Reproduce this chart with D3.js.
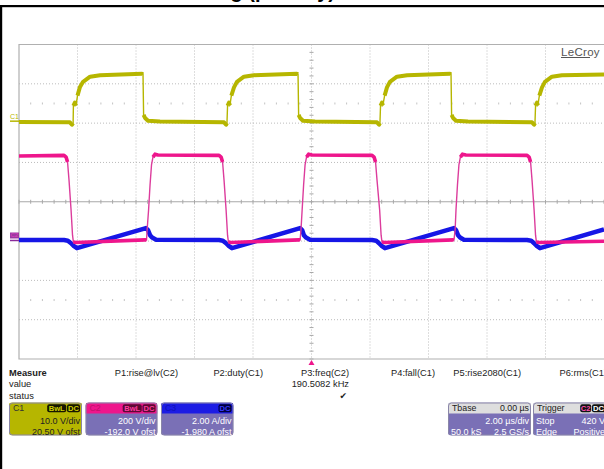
<!DOCTYPE html>
<html><head><meta charset="utf-8">
<script src="https://cdn.jsdelivr.net/npm/d3@7"></script>
<style>
body{margin:0;background:#fff;}
svg{display:block;font-family:"Liberation Sans",Arial,sans-serif;}
</style>
</head><body>
<svg id="c" width="604" height="469"></svg>
<script>
// ---------------- data ----------------
const titleText = "Switching (primary)";
const timeTicks = [-10,-8,-6,-4,-2,0,2,4,6,8,10];      // µs (2 µs/div)
const divTicks  = [-4,-3,-2,-1,0,1,2,3,4];              // vertical divisions

// C1 (yellow) : time µs / volts
const c1Time  = [-10.00,-8.26,-8.19,-8.15,-8.14,-8.09,-8.05,-8.00,-7.92,-7.81,-7.57,-7.23,-5.79,-5.76,-5.74,-5.69,-5.59,-5.18,-2.99,-2.92,
                 -2.89,-2.87,-2.82,-2.79,-2.74,-2.65,-2.55,-2.31,-1.97,-0.50,-0.46,-0.44,-0.39,-0.29,0.12,2.24,2.31,
                 2.34,2.36,2.41,2.44,2.50,2.58,2.68,2.92,3.27,4.74,4.77,4.79,4.84,4.94,5.35,7.54,7.61,
                 7.64,7.66,7.71,7.74,7.79,7.88,7.98,8.22,8.56,10.00];
const c1Volts = [-0.2,-0.3,-0.9,-0.5,3.9,4.7,4.0,6.5,8.6,10.0,11.3,11.7,12.05,11.9,1.6,0.8,0.1,-0.1,-0.3,-0.9,
                 -0.5,3.9,4.7,4.0,6.5,8.6,10.0,11.3,11.7,12.05,11.9,1.6,0.8,0.1,-0.1,-0.3,-0.9,
                 -0.5,3.9,4.7,4.0,6.5,8.6,10.0,11.3,11.7,12.05,11.9,1.6,0.8,0.1,-0.1,-0.3,-0.9,
                 -0.5,3.9,4.7,4.0,6.5,8.6,10.0,11.3,11.7,11.9];

// C2 (magenta) : time µs / volts
const c2Time  = [-10.00,-8.46,-8.39,-8.34,-8.29,-8.22,-8.17,-8.14,-8.05,-5.69,-5.64,-5.62,-5.57,-5.52,-5.47,-5.42,-5.35,-5.25,
                 -3.16,-3.09,-3.04,-2.99,-2.92,-2.87,-2.84,-2.75,-0.43,-0.39,-0.36,-0.32,-0.27,-0.22,-0.17,-0.10,0.02,
                 2.07,2.14,2.19,2.24,2.33,2.38,2.41,2.51,4.84,4.87,4.91,4.94,4.99,5.04,5.09,5.16,5.28,
                 7.37,7.44,7.49,7.54,7.61,7.66,7.69,7.78,10.00];
const c2Volts = [425,428,419,394,302,150,22,-13,-15,-2,-3,48,150,277,379,419,434,430,
                 428,419,394,302,150,22,-13,-15,-2,-3,48,150,277,379,419,434,430,
                 428,419,394,302,150,22,-13,-15,-2,-3,48,150,277,379,419,434,430,
                 428,419,394,302,150,22,-13,-15,-9];

// C3 (blue) : time µs / amps
const c3Time = [-10.00,-8.46,-8.33,-8.22,-8.12,-8.02,-5.66,-5.59,-5.52,-5.45,-5.31,
                -3.16,-3.03,-2.92,-2.82,-2.72,-0.39,-0.32,-0.26,-0.19,-0.05,
                2.07,2.21,2.31,2.41,2.51,4.87,4.94,5.01,5.08,5.21,
                7.37,7.51,7.61,7.71,7.81,10.00];
const c3Amps = [0.03,0.03,0.00,-0.13,-0.28,-0.38,0.64,0.54,0.28,0.16,0.05,
                0.03,0.00,-0.13,-0.28,-0.38,0.64,0.54,0.28,0.16,0.05,
                0.03,0.00,-0.13,-0.28,-0.38,0.64,0.54,0.28,0.16,0.05,
                0.03,0.00,-0.13,-0.28,-0.38,0.57];

// channel settings (per div / offset)
const chNames   = ["C1","C2","C3"];
const chPerDiv  = [10.0, 200, 2.00];
const chOffset  = [20.50, -192.0, -1.980];
const chDivText = ["10.0 V/div","200 V/div","2.00 A/div"];
const chOfsText = ["20.50 V ofst","-192.0 V ofst","-1.980 A ofst"];

// measurements
const measureLabels = ["P1:rise@lv(C2)","P2:duty(C1)","P3:freq(C2)","P4:fall(C1)","P5:rise2080(C1)","P6:rms(C1)"];
const measureValues = ["","","190.5082 kHz","","",""];
const measureStatus = ["","","✔","","",""];
const rowLabels = ["Measure","value","status"];

const tbaseLines = ["Tbase","0.00 µs","2.00 µs/div","50.0 kS","2.5 GS/s"];
const trigLines  = ["Trigger","Stop","420 V","Edge","Positive"];

// ---------------- drawing ----------------
const svg = d3.select("#c");
const L = 19, R = 604, T = 44.5, B = 359;
const x = d3.scaleLinear().domain([-10,10]).range([L,R]);
const dv = d3.scaleLinear().domain([-4,4]).range([B,T]);
const yFor = i => v => dv((v + chOffset[i]) / chPerDiv[i]);

const COL = {y:"#b6b600", p:"#ee168c", b:"#1616e6", slate:"#7a70b6"};

// frame (title is cropped by the top of the picture)
svg.append("text").attr("x",335).attr("y",-2.5).attr("text-anchor","end")
  .attr("font-size",20).attr("font-weight","bold").attr("fill","#000").text(titleText);
svg.append("rect").attr("x",0).attr("y",5).attr("width",604).attr("height",2.2).attr("fill","#000");
svg.append("rect").attr("x",0).attr("y",5).attr("width",2.2).attr("height",464).attr("fill","#000");

// grid
const grid = svg.append("g");
const minorX = d3.range(-10,10.001,0.4), minorY = d3.range(-4,4.001,0.2);
timeTicks.forEach(t=>{
  if (t===-10 || t===10) return;
  grid.append("line").attr("x1",x(t)).attr("x2",x(t)).attr("y1",T).attr("y2",B)
    .attr("stroke","#bcbcbc").attr("stroke-width",1).attr("stroke-dasharray","1,2");
});
divTicks.forEach(d=>{
  if (d===-4 || d===4) return;
  grid.append("line").attr("x1",L).attr("x2",R).attr("y1",dv(d)).attr("y2",dv(d))
    .attr("stroke", d===0 ? "#a8a8a8" : "#bcbcbc").attr("stroke-width",1)
    .attr("stroke-dasharray", d===0 ? null : "1,2");
});
// center ticks
minorX.forEach(t=>{
  grid.append("line").attr("x1",x(t)).attr("x2",x(t)).attr("y1",dv(0)-2).attr("y2",dv(0)+2).attr("stroke","#a8a8a8");
});
minorY.forEach(d=>{
  grid.append("line").attr("x1",x(0)-2).attr("x2",x(0)+2).attr("y1",dv(d)).attr("y2",dv(d)).attr("stroke","#a8a8a8");
});
// dotted marker rows
[2.5,-2.5].forEach(d=>{
  minorX.forEach((t,i)=>{ if (i%5===0) return;
    grid.append("rect").attr("x",x(t)-0.5).attr("y",dv(d)-1).attr("width",1).attr("height",2).attr("fill","#c4c4c4");
  });
});
// border
grid.append("path").attr("d",`M${R},${T}H${L}V${B}H${R}`).attr("fill","none").attr("stroke","#b0b0b0").attr("stroke-width",1.2);

// LeCroy logo
svg.append("text").attr("x",561).attr("y",55.5).attr("font-size",11.5).attr("letter-spacing",0.3)
  .attr("fill","#555").text("LeCroy");
svg.append("line").attr("x1",561).attr("x2",590).attr("y1",57.5).attr("y2",57.5).attr("stroke","#555").attr("stroke-width",1);

// traces
svg.append("clipPath").attr("id","clipG").append("rect").attr("x",L).attr("y",T).attr("width",R-L).attr("height",B-T);
const tg = svg.append("g").attr("clip-path","url(#clipG)");

function drawTrace(times, vals, yfn, color, edgeColor, bandW){
  const pts = times.map((t,i)=>[x(t), yfn(vals[i])]);
  tg.append("path").attr("d", d3.line()(pts)).attr("fill","none")
    .attr("stroke", edgeColor).attr("stroke-width",1.4).attr("stroke-linejoin","round");
  let d = "", pen = false;
  for (let i=1;i<pts.length;i++){
    const [x0,y0]=pts[i-1],[x1,y1]=pts[i];
    const flat = Math.abs(y1-y0) <= 5*Math.abs(x1-x0);
    if (flat){ if(!pen) d += `M${x0},${y0}`; d += `L${x1},${y1}`; pen = true; }
    else pen = false;
  }
  tg.append("path").attr("d", d).attr("fill","none").attr("stroke", color)
    .attr("stroke-width", bandW).attr("stroke-linejoin","round").attr("stroke-linecap","butt");
}
drawTrace(c1Time, c1Volts, yFor(0), COL.y, COL.y, 4);
drawTrace(c3Time, c3Amps, yFor(2), COL.b, COL.b, 4.5);
drawTrace(c2Time, c2Volts, yFor(1), COL.p, "#dc3c9c", 3.6);

// channel ground markers at left
const m1 = yFor(0)(0), m2 = yFor(1)(0);
svg.append("line").attr("x1",10).attr("x2",19).attr("y1",m1).attr("y2",m1).attr("stroke",COL.y).attr("stroke-width",1.5);
svg.append("text").attr("x",10).attr("y",m1-2).attr("font-size",7).attr("fill",COL.y).text("C1");
svg.append("line").attr("x1",10).attr("x2",19).attr("y1",m2+1).attr("y2",m2+1).attr("stroke","#8a2a9a").attr("stroke-width",1.5);
svg.append("rect").attr("x",10).attr("y",m2-7).attr("width",9).attr("height",6).attr("fill","#9a3aa0");
svg.append("text").attr("x",10.5).attr("y",m2-2).attr("font-size",6).attr("fill","#e040c0").text("C2");

// trigger marker
svg.append("path").attr("d",`M${x(0)-3},${365}L${x(0)},${360}L${x(0)+3},${365}Z`).attr("fill",COL.p);

// measure table
const colRight = [178,263,349,435,521,607];
const rowY = [375.5,387,398.5];
rowLabels.forEach((t,i)=>{
  svg.append("text").attr("x",9).attr("y",rowY[i]).attr("font-size",9.3)
    .attr("font-weight", i===0 ? "bold":"normal").attr("fill","#222").text(t);
});
measureLabels.forEach((t,i)=>{
  svg.append("text").attr("x",colRight[i]).attr("y",rowY[0]).attr("text-anchor","end").attr("font-size",9.3).attr("fill","#222").text(t);
  if (measureValues[i]) svg.append("text").attr("x",colRight[i]).attr("y",rowY[1]).attr("text-anchor","end").attr("font-size",9.3).attr("fill","#222").text(measureValues[i]);
  if (measureStatus[i]) svg.append("text").attr("x",colRight[i]-2).attr("y",rowY[2]).attr("text-anchor","end").attr("font-size",9).attr("font-family","DejaVu Sans").attr("fill","#222").text(measureStatus[i]);
});

// boxes
function box(bx, bw, headerFill, bodyFill, headL, headLCol, headR, headRCol, badges, lines, textCol){
  const by = 402.5, bh = 33, hh = 11;
  const g = svg.append("g");
  g.append("clipPath").attr("id","bc"+bx).append("rect").attr("x",bx).attr("y",by).attr("width",bw).attr("height",bh).attr("rx",3);
  const inner = g.append("g").attr("clip-path",`url(#bc${bx})`);
  inner.append("rect").attr("x",bx).attr("y",by).attr("width",bw).attr("height",bh).attr("fill",bodyFill);
  inner.append("rect").attr("x",bx).attr("y",by).attr("width",bw).attr("height",hh).attr("fill",headerFill);
  g.append("rect").attr("x",bx+0.5).attr("y",by+0.5).attr("width",bw-1).attr("height",bh-1).attr("rx",3)
    .attr("fill","none").attr("stroke","#8a86a8").attr("stroke-width",1);
  if (headL) g.append("text").attr("x",bx+4).attr("y",by+8.8).attr("font-size",8.8).attr("fill",headLCol).text(headL);
  if (headR) g.append("text").attr("x",bx+bw-2).attr("y",by+8.8).attr("text-anchor","end").attr("font-size",8.8).attr("fill",headRCol).text(headR);
  let rx = bx + bw - 2;
  badges.slice().reverse().forEach(b=>{
    const w = b.w; rx -= w;
    g.append("rect").attr("x",rx).attr("y",by+1.8).attr("width",w).attr("height",8).attr("rx",2).attr("fill",b.bg);
    g.append("text").attr("x",rx+w/2).attr("y",by+8.6).attr("text-anchor","middle").attr("font-size",7.6).attr("font-weight","bold").attr("fill",b.fg).text(b.t);
    rx -= 0.8;
  });
  lines.forEach((ln,i)=>{
    const yy = by + 21.5 + i*11;
    if (ln[0]) g.append("text").attr("x",bx+3).attr("y",yy).attr("font-size",9).attr("fill",textCol).text(ln[0]);
    if (ln[1]) g.append("text").attr("x",bx+bw-2).attr("y",yy).attr("text-anchor","end").attr("font-size",9).attr("fill",textCol).text(ln[1]);
  });
}
box(9, 73, COL.y, COL.y, chNames[0], "#333", null, null,
    [{t:"BwL",w:19,bg:"#161600",fg:"#d0d000"},{t:"DC",w:13,bg:"#161600",fg:"#d0d000"}],
    [[null,chDivText[0]],[null,chOfsText[0]]], "#222");
box(85.5, 72, COL.p, COL.slate, chNames[1], "#c0106c", null, null,
    [{t:"BwL",w:19,bg:"#5c0a34",fg:"#ff3aa0"},{t:"DC",w:13,bg:"#5c0a34",fg:"#ff3aa0"}],
    [[null,chDivText[1]],[null,chOfsText[1]]], "#fff");
box(161, 72.5, "#1c1ce4", COL.slate, chNames[2], "#1010b8", null, null,
    [{t:"DC",w:13,bg:"#00003c",fg:"#3a3aff"}],
    [[null,chDivText[2]],[null,chOfsText[2]]], "#fff");
box(448, 83, "#dedede", COL.slate, tbaseLines[0], "#222", tbaseLines[1], "#222", [],
    [[null,tbaseLines[2]],[tbaseLines[3],tbaseLines[4]]], "#fff");
box(533, 74, "#dedede", COL.slate, trigLines[0], "#222", null, null,
    [{t:"C2",w:11,bg:"#111",fg:"#ff50b0"},{t:"DC",w:13,bg:"#111",fg:"#fff"}],
    [[trigLines[1],trigLines[2]],[trigLines[3],trigLines[4]]], "#fff");
</script>
</body></html>
